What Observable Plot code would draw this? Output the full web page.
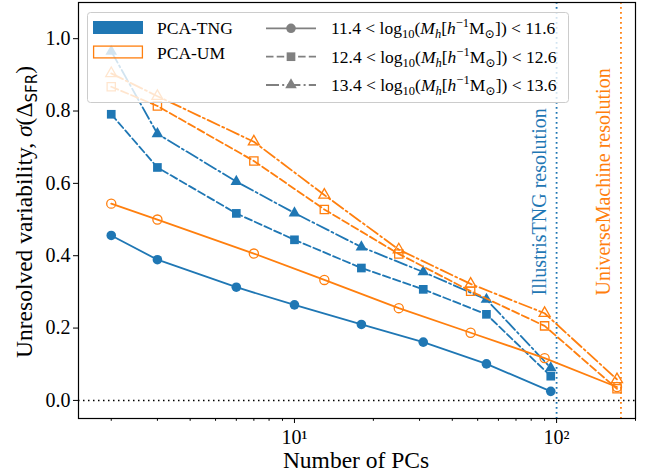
<!DOCTYPE html>
<html><head><meta charset="utf-8">
<script src="https://cdn.jsdelivr.net/npm/d3@7"></script>
<script src="https://cdn.jsdelivr.net/npm/@observablehq/plot@0.6"></script>
<style>
body{margin:0;background:#fff}
#chart svg, #chart svg text{font-family:"Liberation Serif","DejaVu Serif",serif}
</style>
</head><body><div id="chart"></div>
<script>
// ---- data ----
const tngPCs = [2, 3, 6, 10, 18, 31, 54, 95];
const umPCs  = [2, 3, 7, 13, 25, 47, 90, 170];
const massBins = ["11.4", "12.4", "13.4"];
const massBinsHi = ["11.6", "12.6", "13.6"];
const tngLow  = [0.456, 0.389, 0.313, 0.264, 0.210, 0.161, 0.101, 0.025];
const tngMid  = [0.791, 0.644, 0.517, 0.444, 0.366, 0.307, 0.238, 0.067];
const tngHigh = [0.965, 0.737, 0.605, 0.518, 0.424, 0.355, 0.279, 0.090];
const umLow   = [0.544, 0.500, 0.406, 0.333, 0.255, 0.187, 0.117, 0.037];
const umMid   = [0.867, 0.814, 0.662, 0.528, 0.405, 0.302, 0.206, 0.032];
const umHigh  = [0.904, 0.841, 0.715, 0.568, 0.417, 0.322, 0.241, 0.058];
const yTicks = [0, 0.2, 0.4, 0.6, 0.8, 1.0];
const xMajor = [10, 100];
const xMajorLabels = ["10¹", "10²"];
const xMinor = [2,3,4,5,6,7,8,9,20,30,40,50,60,70,80,90,200];
const tngResolution = 100;
const umResolution = 176;
const modelNames = ["PCA-TNG", "PCA-UM"];

// ---- styles ----
const blue = "#1f77b4", orange = "#ff7f0e";
const serif = "Liberation Serif, DejaVu Serif, serif";
const binStyle = [
  {symbol: "circle", dash: null, r: 4.8},
  {symbol: "square", dash: "7.5,3.2", r: 4.9},
  {symbol: "triangle", dash: "13,3.2,2,3.2", r: 4.3}
];

function rows(pcs, vals) { return pcs.map((p, i) => ({pcs: p, v: vals[i]})); }
const series = [
  {model: 0, bin: 0, data: rows(tngPCs, tngLow)},
  {model: 0, bin: 1, data: rows(tngPCs, tngMid)},
  {model: 0, bin: 2, data: rows(tngPCs, tngHigh)},
  {model: 1, bin: 0, data: rows(umPCs, umLow)},
  {model: 1, bin: 1, data: rows(umPCs, umMid)},
  {model: 1, bin: 2, data: rows(umPCs, umHigh)}
];

const marks = [
  Plot.ruleY([0], {stroke: "black", strokeWidth: 1.5, strokeDasharray: "1.5,3.5"}),
  Plot.ruleX([tngResolution], {stroke: blue, strokeWidth: 1.8, strokeDasharray: "1.8,3.2"}),
  Plot.ruleX([umResolution], {stroke: orange, strokeWidth: 1.8, strokeDasharray: "1.8,3.2"}),
  Plot.text([{x: tngResolution, y: 0.29, t: "IllustrisTNG resolution"}],
    {x: "x", y: "y", text: "t", rotate: -90, textAnchor: "start", dx: -17, fill: blue, fontSize: 20, fontFamily: serif}),
  Plot.text([{x: umResolution, y: 0.29, t: "UniverseMachine resolution"}],
    {x: "x", y: "y", text: "t", rotate: -90, textAnchor: "start", dx: -17, fill: orange, fontSize: 20, fontFamily: serif})
];
for (const s of series) {
  const col = s.model === 0 ? blue : orange;
  const st = binStyle[s.bin];
  marks.push(Plot.line(s.data, {x: "pcs", y: "v", stroke: col, strokeWidth: 1.8,
    strokeDasharray: st.dash || undefined}));
  if (s.model === 0) {
    marks.push(Plot.dot(s.data, {x: "pcs", y: "v", symbol: st.symbol, r: st.r, fill: col, stroke: "none"}));
  } else {
    marks.push(Plot.dot(s.data, {x: "pcs", y: "v", symbol: st.symbol, r: st.r * 0.95, fill: "none", stroke: col, strokeWidth: 1.3}));
  }
}
marks.push(
  Plot.frame({stroke: "black", strokeWidth: 1.2}),
  Plot.axisY({ticks: yTicks, tickFormat: d3.format(".1f"), tickSize: 5, tickPadding: 3, label: null, fontFamily: serif, fontSize: 20}),
  Plot.axisX({ticks: xMajor, tickFormat: (d) => xMajorLabels[xMajor.indexOf(d)], tickSize: 5, tickPadding: 6, label: null, fontFamily: serif, fontSize: 20}),
  Plot.axisX({ticks: xMinor, tickFormat: () => "", tickSize: 2.8, label: null})
);

const plot = Plot.plot({
  width: 645, height: 476,
  marginLeft: 78, marginRight: 10, marginTop: 2, marginBottom: 58,
  x: {type: "log", domain: [1.5, 200]},
  y: {domain: [-0.05, 1.1]},
  style: {fontSize: "20px", fontFamily: serif, color: "black", background: "white"},
  marks
});
document.getElementById("chart").appendChild(plot);

// ---- axis titles ----
const svg = d3.select(plot);
svg.append("text").attr("x", 356).attr("y", 468).attr("text-anchor", "middle")
  .attr("font-size", 23.5).attr("fill", "black").text("Number of PCs");
const yl = svg.append("text").attr("transform", "translate(32,212) rotate(-90)")
  .attr("text-anchor", "middle").attr("font-size", 23.5).attr("fill", "black");
yl.append("tspan").text("Unresolved variability, ");
yl.append("tspan").attr("font-style", "italic").text("σ");
yl.append("tspan").text("(Δ");
yl.append("tspan").attr("font-family", "DejaVu Sans").attr("font-size", 15).attr("dy", 5).text("SFR");
yl.append("tspan").attr("dy", -5).text(")");

// ---- legend ----
const lg = svg.append("g").attr("text-anchor", "start");
lg.append("rect").attr("x", 87.5).attr("y", 12.5).attr("width", 481).attr("height", 90).attr("rx", 3)
  .attr("fill", "white").attr("fill-opacity", 0.8).attr("stroke", "#cccccc").attr("stroke-width", 1);
// model entries
lg.append("rect").attr("x", 93).attr("y", 21).attr("width", 50).attr("height", 13).attr("fill", blue);
lg.append("rect").attr("x", 93.6).attr("y", 46.1).attr("width", 48.8).attr("height", 11.8)
  .attr("fill", "none").attr("stroke", orange).attr("stroke-width", 1.3);
lg.append("text").attr("x", 157).attr("y", 33.5).attr("text-anchor", "start").attr("font-size", 17.5).attr("fill", "black").text(modelNames[0]);
lg.append("text").attr("x", 157).attr("y", 58.5).attr("text-anchor", "start").attr("font-size", 17.5).attr("fill", "black").text(modelNames[1]);
// mass bin entries
const rowY = [28.3, 56.7, 85];
const symMap = {circle: d3.symbolCircle, square: d3.symbolSquare, triangle: d3.symbolTriangle};
binStyle.forEach((st, i) => {
  const y = rowY[i];
  const ln = lg.append("line").attr("x1", 266).attr("x2", 316).attr("y1", y).attr("y2", y)
    .attr("stroke", "#808080").attr("stroke-width", 1.8);
  if (st.dash) ln.attr("stroke-dasharray", st.dash);
  lg.append("path").attr("d", d3.symbol(symMap[st.symbol], st.r * st.r * Math.PI)())
    .attr("transform", `translate(291,${y})`).attr("fill", "#808080");
  const t = lg.append("text").attr("x", 331).attr("y", y + 6).attr("text-anchor", "start")
    .attr("font-size", 17.5).attr("fill", "black");
  t.append("tspan").text(massBins[i] + " < log");
  t.append("tspan").attr("font-size", 12.5).attr("dy", 4).text("10");
  t.append("tspan").attr("dy", -4).text("(");
  t.append("tspan").attr("font-style", "italic").text("M");
  t.append("tspan").attr("font-style", "italic").attr("font-size", 12.5).attr("dy", 4).text("h");
  t.append("tspan").attr("dy", -4).text("[");
  t.append("tspan").attr("font-style", "italic").text("h");
  t.append("tspan").attr("font-size", 12.5).attr("dy", -7).text("−1");
  t.append("tspan").attr("dy", 7).text("M");
  t.append("tspan").attr("font-size", 12.5).attr("dy", 4).text("⊙");
  t.append("tspan").attr("dy", -4).text("]) < " + massBinsHi[i]);
});
</script>
</body></html>
